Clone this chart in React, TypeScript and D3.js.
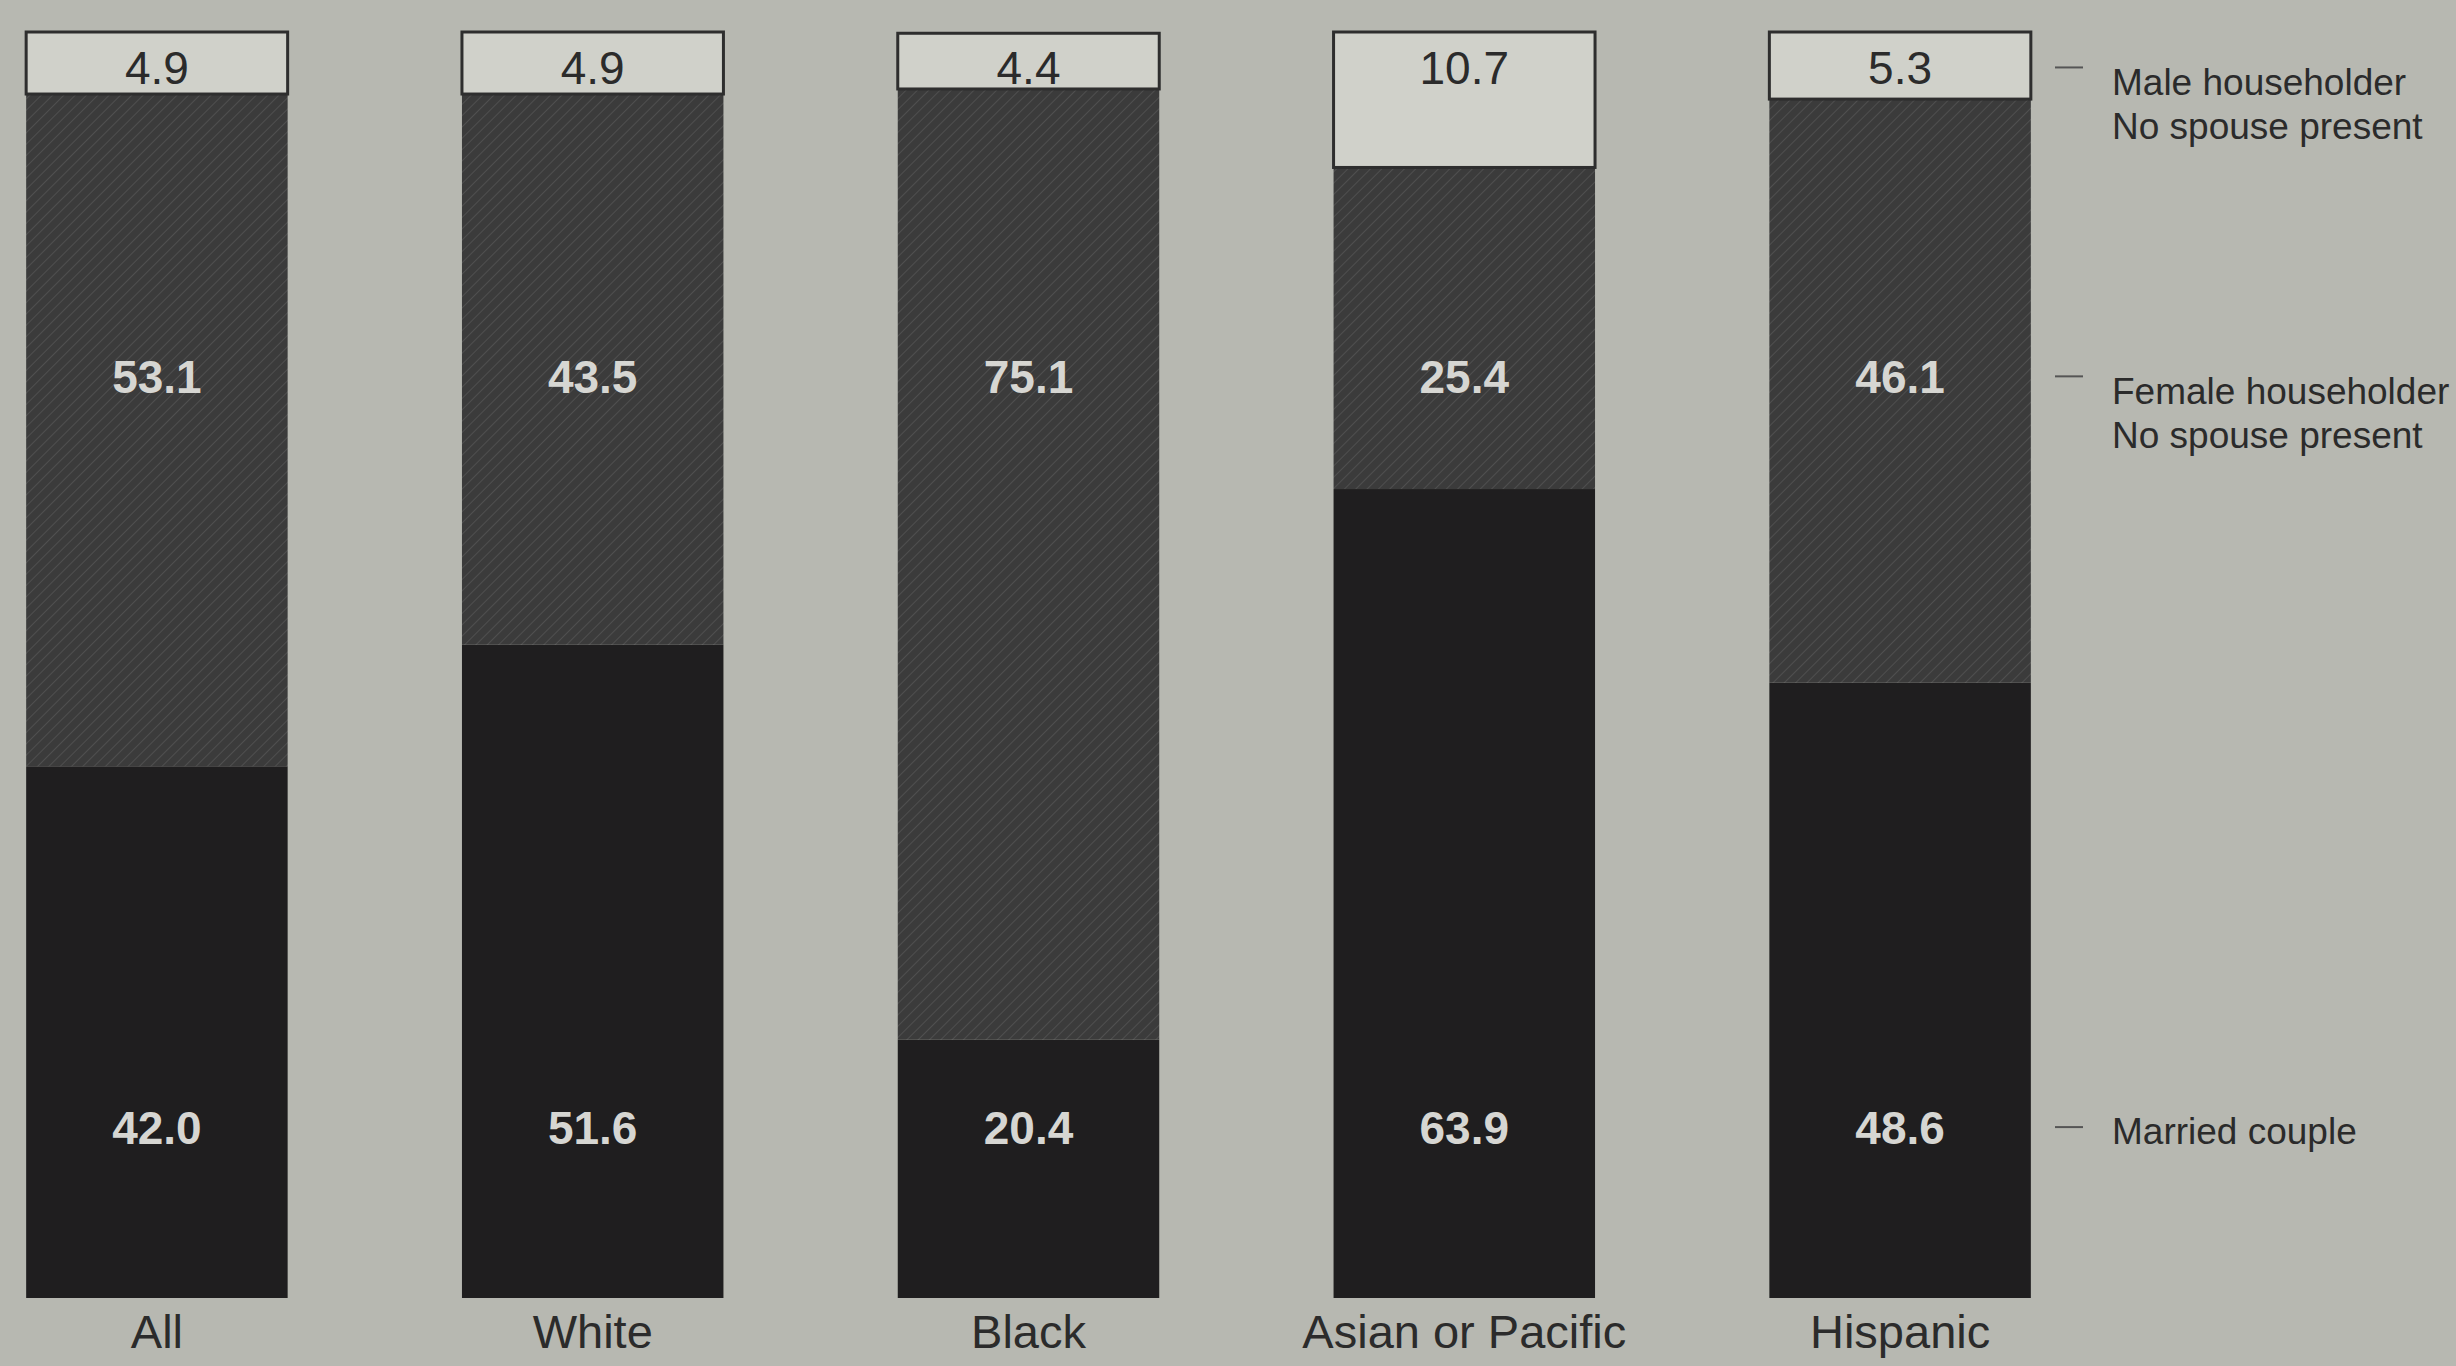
import React from "react";
import * as d3 from "d3";

const categories = ["All", "White", "Black", "Asian or Pacific", "Hispanic"];

// percent of families by type, bottom to top
const marriedCouple = [42.0, 51.6, 20.4, 63.9, 48.6];
const femaleHouseholder = [53.1, 43.5, 75.1, 25.4, 46.1];
const maleHouseholder = [4.9, 4.9, 4.4, 10.7, 5.3];

const seriesKeys = ["married", "female", "male"];
const legendLines = [
  ["Married couple"],
  ["Female householder", "No spouse present"],
  ["Male householder", "No spouse present"],
];
// where the value labels sit, in percent of bar height
const labelRows = [13.5, 72.8, 97.2];

const W = 2456;
const H = 1366;

const App: React.FC = () => {
  const rows = categories.map((c, i) => ({
    cat: c,
    married: marriedCouple[i],
    female: femaleHouseholder[i],
    male: maleHouseholder[i],
  }));
  const stacked = d3.stack<any>().keys(seriesKeys)(rows);

  const x = d3
    .scaleBand<string>()
    .domain(categories)
    .range([-61, 2118])
    .paddingInner(0.4)
    .paddingOuter(0.2);
  const y = d3.scaleLinear().domain([0, 100]).range([1298, 32]);

  const fills: Record<string, string> = {
    married: "#1f1e1f",
    female: "url(#hatch)",
    male: "#d0d1ca",
  };
  const textFill: Record<string, string> = {
    married: "#d6d6d2",
    female: "#d6d6d2",
    male: "#2b2b2b",
  };

  const legendX = 2112;
  const tickX0 = 2055;
  const tickX1 = 2083;

  return (
    <div style={{ position: "absolute", left: 0, top: 0 }}>
      <svg width={W} height={H} style={{ display: "block", fontFamily: "'Liberation Sans', Arial, sans-serif" }}>
        <defs>
          <pattern id="hatch" width="8" height="8" patternUnits="userSpaceOnUse" patternTransform="rotate(45)">
            <rect width="8" height="8" fill="#3b3b3b" />
            <line x1="0" y1="0" x2="0" y2="8" stroke="#4f4f4f" strokeWidth="2" />
          </pattern>
        </defs>
        <rect width={W} height={H} fill="#b7b8b1" />

        {stacked.map((s) => (
          <g key={s.key}>
            {s.map((d, i) => (
              <rect
                key={categories[i]}
                x={x(categories[i])}
                y={y(d[1])}
                width={x.bandwidth()}
                height={y(d[0]) - y(d[1])}
                fill={fills[s.key]}
                stroke={s.key === "male" ? "#2e2e2e" : "none"}
                strokeWidth={s.key === "male" ? 3 : 0}
              />
            ))}
          </g>
        ))}

        {stacked.map((s, si) => (
          <g key={"lbl-" + s.key}>
            {s.map((d, i) => (
              <text
                key={categories[i]}
                x={(x(categories[i]) ?? 0) + x.bandwidth() / 2}
                y={y(labelRows[si])}
                dy="0.36em"
                textAnchor="middle"
                fontSize={s.key === "male" ? 46 : 46}
                fontWeight={s.key === "male" ? "normal" : "bold"}
                fill={textFill[s.key]}
              >
                {(d[1] - d[0]).toFixed(1)}
              </text>
            ))}
          </g>
        ))}

        {categories.map((c) => (
          <text
            key={"cat-" + c}
            x={(x(c) ?? 0) + x.bandwidth() / 2}
            y={1331}
            dy="0.36em"
            textAnchor="middle"
            fontSize={47}
            fill="#2b2b2b"
          >
            {c}
          </text>
        ))}

        {legendLines.map((lines, li) => {
          const ty = y(labelRows[li]);
          const offset = lines.length > 1 ? 14 : 4;
          return (
            <g key={"leg-" + li}>
              <line x1={tickX0} x2={tickX1} y1={ty} y2={ty} stroke="#555" strokeWidth={2} />
              {lines.map((t, k) => (
                <text
                  key={t + k}
                  x={legendX}
                  y={ty + offset + k * 44}
                  dy="0.36em"
                  fontSize={37}
                  fill="#2b2b2b"
                >
                  {t}
                </text>
              ))}
            </g>
          );
        })}
      </svg>
    </div>
  );
};

export default App;
